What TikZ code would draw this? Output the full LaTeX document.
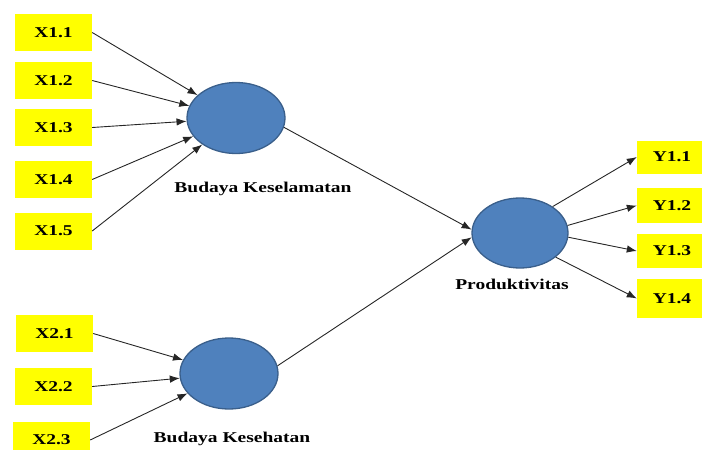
\documentclass[tikz,border=0pt]{standalone}
\usepackage{fontspec}
\setmainfont{Liberation Serif}
\newfontfamily\lblfont[FakeStretch=1.3]{Liberation Serif}
\usetikzlibrary{shapes.geometric,arrows.meta}
\definecolor{latfill}{HTML}{4F81BD}
\definecolor{latedge}{HTML}{3A5F8B}
\definecolor{boxyellow}{HTML}{FFFF00}
\tikzset{
  ind/.style={rectangle,fill=boxyellow,minimum width=77pt,minimum height=37pt,inner sep=0pt,
    font=\lblfont\bfseries\fontsize{15}{15}\selectfont},
  latent/.style={ellipse,fill=latfill,draw=latedge,line width=1.3pt,inner sep=0pt},
  lbl/.style={font=\lblfont\bfseries\fontsize{15}{15}\selectfont,inner sep=0pt},
  arr/.style={-{Latex[length=10pt,width=7.5pt]},line width=0.9pt,draw=black!85}
}
\begin{document}
\begin{tikzpicture}[x=1pt,y=-1pt]
\useasboundingbox (0,0) rectangle (702,450);
% indicators X1
\node[ind] (x11) at (53.5,32.5) {X1.1};
\node[ind] (x12) at (53.5,80.5) {X1.2};
\node[ind] (x13) at (53.5,127.5) {X1.3};
\node[ind] (x14) at (53.5,179.5) {X1.4};
\node[ind] (x15) at (53.5,231) {X1.5};
% indicators X2
\node[ind] (x21) at (54.5,333.5) {X2.1};
\node[ind] (x22) at (53.5,386.5) {X2.2};
\node[ind] (x23) at (51.5,440) {X2.3};
% indicators Y
\node[ind,minimum width=70pt,minimum height=33pt] (y11) at (672,157) {Y1.1};
\node[ind,minimum width=70pt,minimum height=35pt] (y12) at (672,205.5) {Y1.2};
\node[ind,minimum width=70pt,minimum height=34pt] (y13) at (672,251) {Y1.3};
\node[ind,minimum width=70pt,minimum height=39pt] (y14) at (672,298.5) {Y1.4};
% latent variables
\node[latent,minimum width=98pt,minimum height=71pt] (e1) at (236,118) {};
\node[latent,minimum width=98pt,minimum height=71pt] (e2) at (229,373.5) {};
\node[latent,minimum width=96pt,minimum height=70pt] (e3) at (520,233) {};
% labels
\node[lbl] (l1) at (263,188.5) {Budaya Keselamatan};
\node[lbl] (l2) at (232,439) {Budaya Kesehatan};
\node[lbl] (l3) at (512,284) {Produktivitas};
% arrows
\foreach \n in {x11,x12,x13,x14,x15} \draw[arr] (\n.east) -- (e1);
\foreach \n in {x21,x22,x23} \draw[arr] (\n.east) -- (e2);
\draw[arr] (e1.-11) -- (e3.176);
\draw[arr] (e2.9) -- (e3.185);
\draw[arr] (e3.39) -- (y11.west);
\draw[arr] (e3.9) -- (y12.west);
\draw[arr] (e3.-5) -- (y13.west);
\draw[arr] (e3.-34) -- (y14.west);
\end{tikzpicture}
\end{document}
